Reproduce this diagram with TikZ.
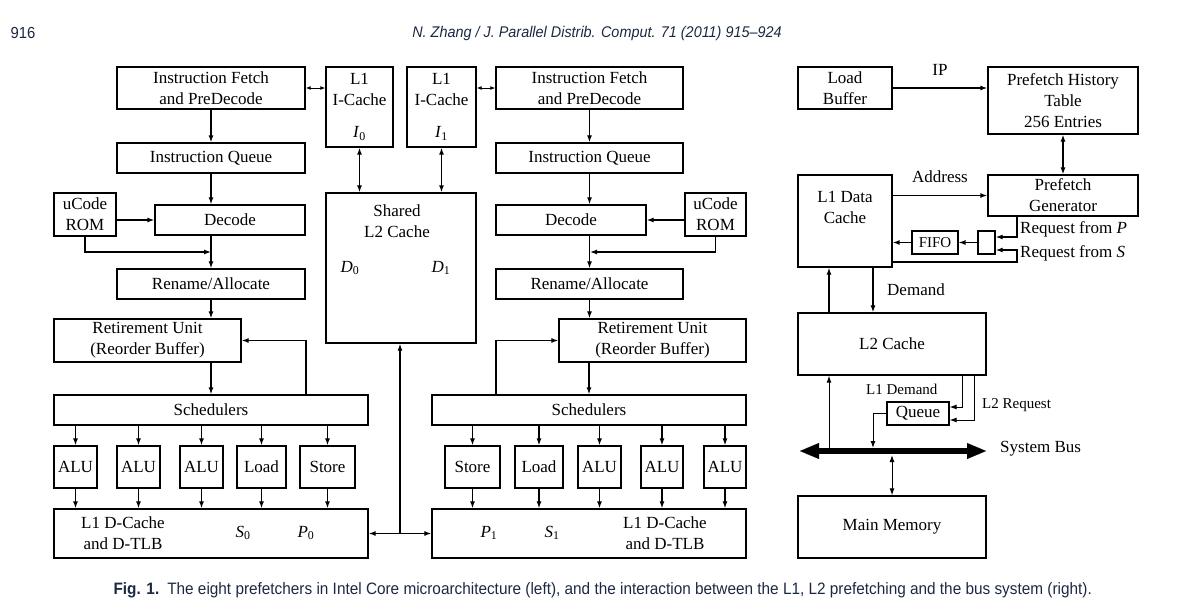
\documentclass[tikz,border=0pt]{standalone}
\usepackage{fontspec}
\setmainfont{Liberation Serif}
\newfontfamily\capfont[FakeStretch=0.93]{Liberation Sans}
\usetikzlibrary{positioning,arrows.meta,calc}
\definecolor{pagetext}{RGB}{28,40,66}
\newcommand{\idx}[2]{\textit{#1}\textsubscript{#2}}

\begin{document}
\begin{tikzpicture}[x=1pt,y=-1pt,
  box/.style={draw,line width=1.3pt,inner sep=0pt,align=center,font=\fontsize{17}{21}\selectfont},
  txt/.style={inner sep=0pt,align=center,font=\fontsize{17}{21}\selectfont},
  small/.style={inner sep=0pt,anchor=west,font=\fontsize{15}{18}\selectfont},
  arr/.style={line width=1.2pt,-{Latex[length=7pt,width=5pt]}},
  darr/.style={line width=1.2pt,{Latex[length=7pt,width=5pt]}-{Latex[length=7pt,width=5pt]}},
  tinyarr/.style={line width=1pt,{Latex[length=5pt,width=4pt]}-{Latex[length=5pt,width=4pt]}},
  busline/.style={line width=6pt,{Triangle[length=19pt,width=16pt,line width=0.1pt]}-{Triangle[length=19pt,width=16pt,line width=0.1pt]}}]
  \useasboundingbox (0,0) rectangle (1200,613);

  % page header
  \node[anchor=west,text=pagetext,font=\capfont\fontsize{16}{18}\selectfont] (pno) at (7,33) {916};
  \node[text=pagetext,font=\capfont\itshape\fontsize{15.5}{18}\selectfont] (hdr) at (597,33)
    {N. Zhang / J. Parallel Distrib. Comput. 71 (2011) 915–924};

  % core 0
  \node[box,minimum width=188,minimum height=42] (if0) at (211,88) {Instruction Fetch\\and PreDecode};
  \node[box,minimum width=188,minimum height=30] (iq0) at (211,158) {Instruction Queue};
  \node[box,minimum width=62,minimum height=43] (uc0) at (85,214.5) {uCode\\ROM};
  \node[box,minimum width=150,minimum height=30] (dec0) at (230,220) {Decode};
  \node[box,minimum width=188,minimum height=30] (ren0) at (211,284) {Rename/Allocate};
  \node[box,minimum width=187,minimum height=43] (ret0) at (147.5,340.5) {Retirement Unit\\(Reorder Buffer)};
  \node[box,minimum width=314,minimum height=30] (sch0) at (211,410) {Schedulers};
  \node[box,minimum width=43,minimum height=42] (alu0a) at (75.5,467) {ALU};
  \node[box,minimum width=43,minimum height=42] (alu0b) at (138.5,467) {ALU};
  \node[box,minimum width=43,minimum height=42] (alu0c) at (201.5,467) {ALU};
  \node[box,minimum width=49,minimum height=42] (ld0) at (261.5,467) {Load};
  \node[box,minimum width=55,minimum height=42] (st0) at (327.5,467) {Store};
  \node[box,minimum width=314,minimum height=49] (dc0) at (211,533.5) {};
  \node[txt] (dc0t) at (123,533) {L1 D-Cache\\and D-TLB};
  \node[txt] (s0) at (243,533) {\idx{S}{0}};
  \node[txt] (p0) at (306,533) {\idx{P}{0}};

  % shared caches
  \node[box,minimum width=67,minimum height=80] (ic0) at (359.5,107) {L1\\I-Cache\\[11pt]\idx{I}{0}};
  \node[box,minimum width=69,minimum height=80] (ic1) at (441.5,107) {L1\\I-Cache\\[11pt]\idx{I}{1}};
  \node[box,minimum width=150,minimum height=150] (l2) at (401,268) {};
  \node[txt] (l2t) at (397,221) {Shared\\L2 Cache};
  \node[txt] (d0) at (350,268) {\idx{D}{0}};
  \node[txt] (d1) at (441,268) {\idx{D}{1}};

  % core 1
  \node[box,minimum width=187,minimum height=42] (if1) at (589.5,88) {Instruction Fetch\\and PreDecode};
  \node[box,minimum width=187,minimum height=30] (iq1) at (589.5,158) {Instruction Queue};
  \node[box,minimum width=150,minimum height=30] (dec1) at (571,220) {Decode};
  \node[box,minimum width=61,minimum height=43] (uc1) at (715.5,214.5) {uCode\\ROM};
  \node[box,minimum width=187,minimum height=30] (ren1) at (589.5,284) {Rename/Allocate};
  \node[box,minimum width=187,minimum height=43] (ret1) at (652.5,340.5) {Retirement Unit\\(Reorder Buffer)};
  \node[box,minimum width=314,minimum height=30] (sch1) at (589,410) {Schedulers};
  \node[box,minimum width=55,minimum height=42] (st1) at (472.5,467) {Store};
  \node[box,minimum width=48,minimum height=42] (ld1) at (539,467) {Load};
  \node[box,minimum width=43,minimum height=42] (alu1a) at (599.5,467) {ALU};
  \node[box,minimum width=42,minimum height=42] (alu1b) at (662,467) {ALU};
  \node[box,minimum width=42,minimum height=42] (alu1c) at (725,467) {ALU};
  \node[box,minimum width=314,minimum height=49] (dc1) at (589,533.5) {};
  \node[txt] (p1) at (489,533) {\idx{P}{1}};
  \node[txt] (s1) at (552,533) {\idx{S}{1}};
  \node[txt] (dc1t) at (665,533) {L1 D-Cache\\and D-TLB};

  \coordinate (m0) at (211,252);
  \coordinate (m1) at (590,252);
  \coordinate (fb0) at (306,341);
  \coordinate (fb1) at (496,341);
  \coordinate (j) at (400,533.5);

  % core 0 flow
  \draw[arr] (if0) -- (iq0);
  \draw[arr] (iq0.south) -- (iq0.south |- dec0.north);
  \draw[arr] (uc0.east |- dec0.west) -- (dec0.west);
  \draw[arr] (ren0.north |- dec0.south) -- (ren0.north);
  \draw[arr] (uc0.south) |- (m0);
  \draw[arr] (ren0.south) -- (ren0.south |- ret0.north);
  \draw[arr] (sch0.north |- ret0.south) -- (sch0.north);
  \draw[arr] (sch0.north -| fb0) |- (ret0.east);
  \foreach \u in {alu0a,alu0b,alu0c,ld0,st0}{
    \draw[arr] (sch0.south -| \u.north) -- (\u.north);
    \draw[arr] (\u.south) -- (\u.south |- dc0.north);
  }

  % core 1 flow
  \draw[arr] (if1) -- (iq1);
  \draw[arr] (iq1.south) -- (iq1.south |- dec1.north);
  \draw[arr] (uc1.west |- dec1.east) -- (dec1.east);
  \draw[arr] (ren1.north |- dec1.south) -- (ren1.north);
  \draw[arr] (uc1.south) |- (m1);
  \draw[arr] (ren1.south) -- (ren1.south |- ret1.north);
  \draw[arr] (sch1.north |- ret1.south) -- (sch1.north);
  \draw[arr] (sch1.north -| fb1) |- (ret1.west);
  \foreach \u in {st1,ld1,alu1a,alu1b,alu1c}{
    \draw[arr] (sch1.south -| \u.north) -- (\u.north);
    \draw[arr] (\u.south) -- (\u.south |- dc1.north);
  }

  % cache links
  \draw[tinyarr] (if0.east) -- (if0.east -| ic0.west);
  \draw[tinyarr] (ic1.east |- if1.west) -- (if1.west);
  \draw[darr] (ic0.south) -- (ic0.south |- l2.north);
  \draw[darr] (ic1.south) -- (ic1.south |- l2.north);
  \draw[arr] (j) -- (j |- l2.south);
  \draw[arr] (j) -- (dc0.east);
  \draw[arr] (j) -- (dc1.west);

  % prefetch / bus system
  \node[box,minimum width=94,minimum height=42] (lb) at (845,88) {Load\\Buffer};
  \node[box,minimum width=150,minimum height=67] (pht) at (1063,100.5) {Prefetch History\\Table\\256 Entries};
  \node[box,minimum width=150,minimum height=41] (pg) at (1063,195.5) {Prefetch\\Generator};
  \node[box,minimum width=94,minimum height=92] (l1d) at (845,221) {};
  \node[txt,below=17pt of l1d.north] (l1dt) {L1 Data\\Cache};
  \node[box,minimum width=17,minimum height=23] (sb) at (986.5,242.5) {};
  \node[box,line width=1.1pt,minimum width=46,minimum height=23,font=\fontsize{15}{18}\selectfont] (fifo) at (935,242.5) {FIFO};
  \node[box,minimum width=188,minimum height=62] (l2c) at (892,344) {L2 Cache};
  \node[box,line width=1.1pt,minimum width=62,minimum height=23] (q) at (918,413.5) {Queue};
  \node[box,minimum width=188,minimum height=62] (mm) at (892,527) {Main Memory};

  \node[txt] (ip) at (940,70) {IP};
  \node[txt] (addr) at (940,177) {Address};
  \node[small,font=\fontsize{17}{18}\selectfont] (rpt) at (1020,229) {Request from \textit{P}};
  \node[small,font=\fontsize{17}{18}\selectfont] (rst) at (1020,253) {Request from \textit{S}};
  \node[txt] (dem) at (916,290) {Demand};
  \node[small] (l1dem) at (866,389) {L1 Demand};
  \node[small] (l2req) at (982,405) {L2 Request};
  \node[txt,anchor=west] (sbus) at (1000,449) {System Bus};

  \coordinate (rp) at (1017,237);
  \coordinate (rs) at (1017,262);
  \coordinate (sq) at (1017,250);
  \coordinate (ca) at (829,451);
  \coordinate (cd) at (873,0);
  \coordinate (ld) at (962,407);
  \coordinate (lr) at (974,420);
  \coordinate (qb) at (873,448);
  \coordinate (bl) at (800,451);
  \coordinate (br) at (986,451);

  \draw[arr] (lb.east) -- (lb.east -| pht.west);
  \draw[darr] (pht) -- (pg);
  \draw[arr] (pg.west -| l1d.east) -- (pg.west);
  \draw[arr] (pg.south -| rp) |- (sb.east |- rp);
  \draw[arr] (l1d.east |- rs) -| (sq) -- (sq -| sb.east);
  \draw[arr] (sb) -- (fifo);
  \draw[arr] (fifo.west) -- (fifo.west -| l1d.east);
  \draw[arr] (l2c.north -| ca) -- (l1d.south -| ca);
  \draw[arr] (l1d.south -| cd) -- (l2c.north -| cd);
  \draw[arr,line width=1pt] (l2c.south -| ld) -- (ld) -- (ld -| q.east);
  \draw[arr,line width=1pt] (l2c.south -| lr) -- (lr) -- (lr -| q.east);
  \draw[arr,line width=1pt] (q.west) -| (qb);
  \draw[arr,line width=1pt] (ca) -- (l2c.south -| ca);
  \draw[busline] (bl) -- (br);
  \draw[darr,line width=1pt] (mm.north) -- ($(mm.north |- bl)+(0,4)$);

  % caption
  \node[anchor=west,text=pagetext,font=\capfont\fontsize{16.5}{18}\selectfont] (cap) at (110,590)
    {\textbf{Fig. 1.}\hspace{8pt}The eight prefetchers in Intel Core microarchitecture (left), and the interaction between the L1, L2 prefetching and the bus system (right).};
\end{tikzpicture}
\end{document}
